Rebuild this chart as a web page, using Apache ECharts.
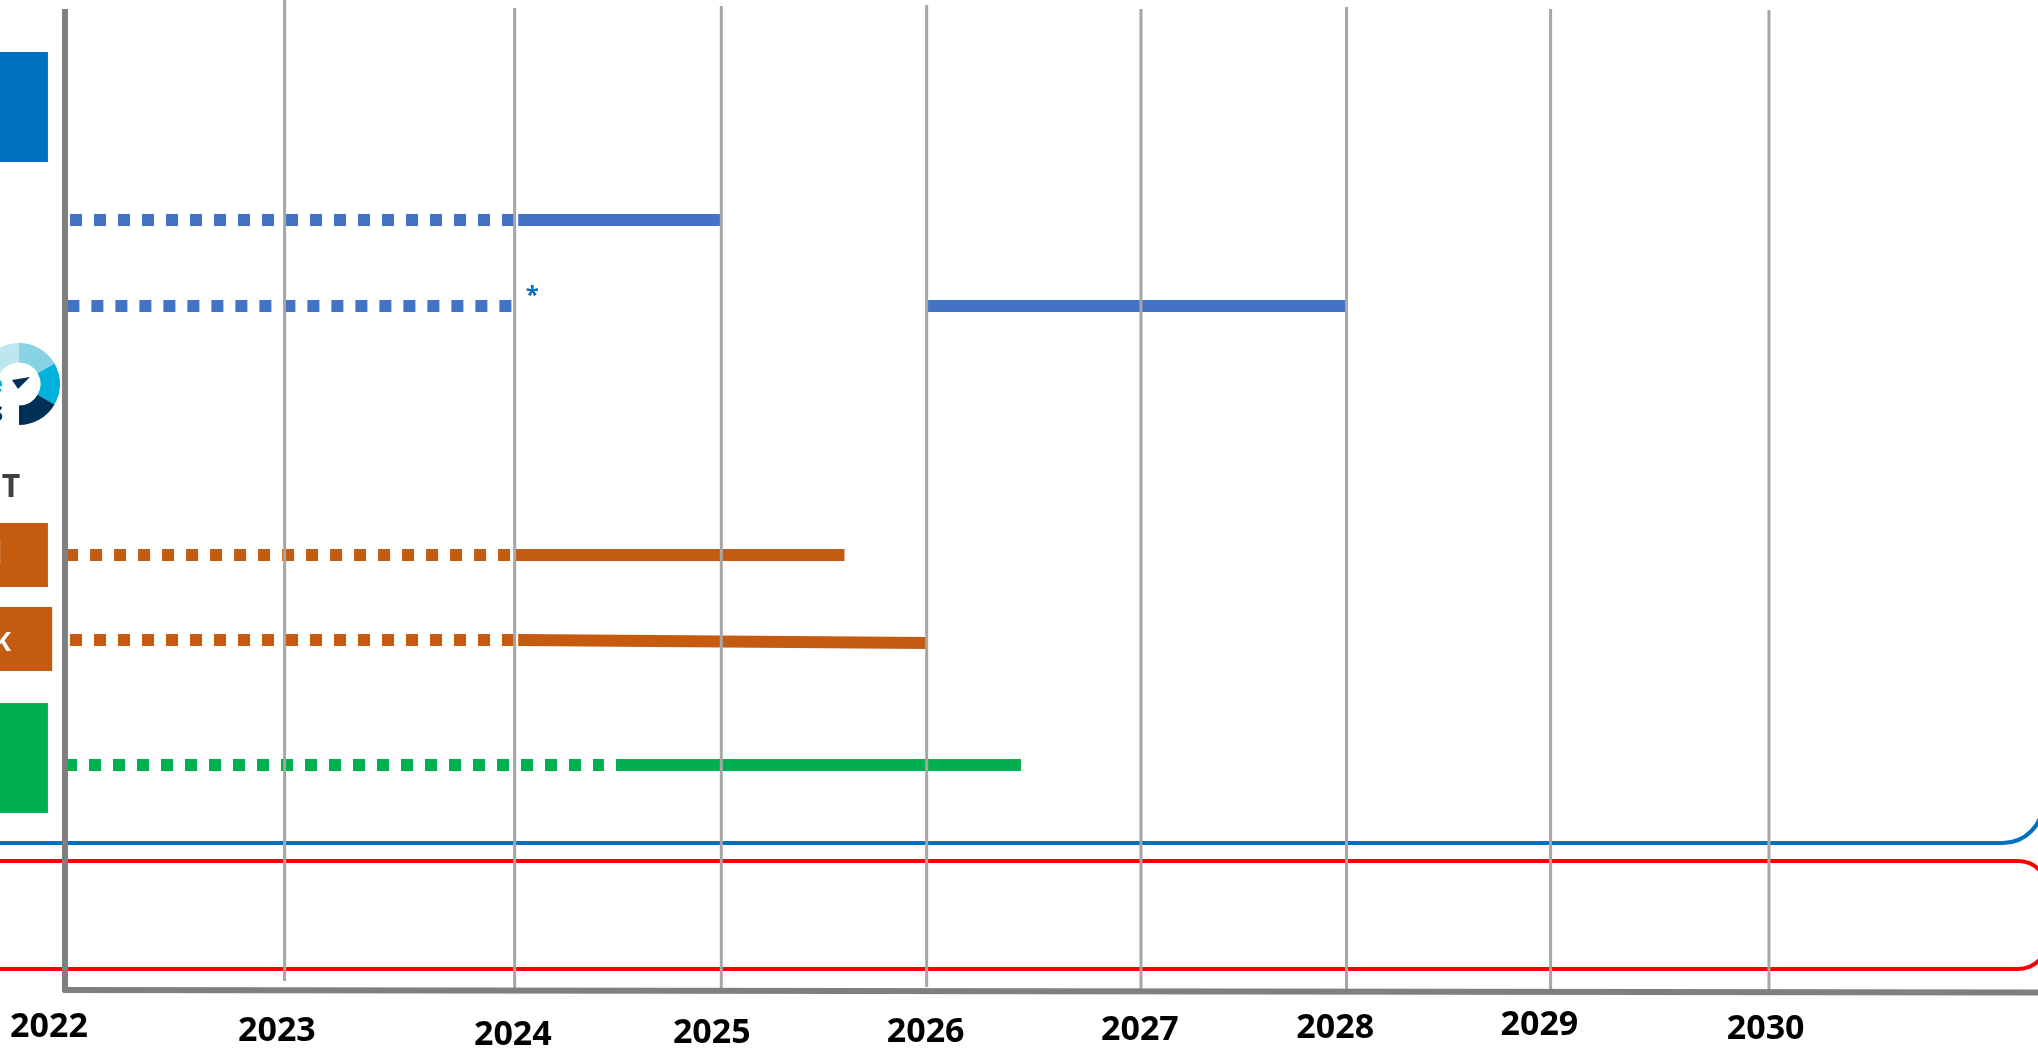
<!DOCTYPE html>
<html>
<head>
<meta charset="utf-8">
<style>
  html, body { margin: 0; background: #fff; }
  #chart { width: 2038px; height: 1049px; }
</style>
<script src="https://cdn.jsdelivr.net/npm/echarts@6/dist/echarts.min.js"></script>
</head>
<body>
<div id="chart"></div>
<script>
// calendar years on the time axis, and how wide each one is drawn (the slide is not even)
const tickYears = [2022, 2023, 2024, 2025, 2026, 2027, 2028, 2029, 2030]
const yearSpans = [1.031, 1.08, 0.97, 0.964, 1.006, 0.965, 0.958, 1.025]

// programme rows, top to bottom
const rowLevels = [2.2, 3.06, 5.55, 6.4, 7.65]
const rowColors = ['#4472C4', '#4472C4', '#C55A11', '#C55A11', '#00B050']

// dotted part of each row (planned), then solid part
const dottedFrom = [2022.023, 2022.011, 2022.005, 2022.023, 2022]
const dottedTo = [2023.997, 2023.989, 2023.98, 2023.997, 2024.432]
const solidFrom = [2024.017, 2026, 2023.998, 2024.017, 2024.49]
const solidTo = [2025, 2028, 2025.6, 2026, 2026.44]
const solidEndLevels = [2.2, 3.06, 5.55, 6.43, 7.65]

// tick lines: top and bottom level for each year
const tickTops = [0.09, 0, 0.08, 0.06, 0.05, 0.09, 0.07, 0.09, 0.1]
const tickBottoms = [9.9, 9.81, 9.88, 9.89, 9.87, 9.92, 9.9, 9.91, 9.93]

// year labels are hand placed on the slide, so they have their own anchors
const tickLabels = ['2022', '2023', '2024', '2025', '2026', '2027', '2028', '2029', '2030']
const tickLabelX = [2021.925, 2022.965, 2023.992, 2024.954, 2025.995, 2026.995, 2027.945, 2028.945, 2029.985]
const tickLabelLevel = [10.27, 10.31, 10.35, 10.33, 10.32, 10.3, 10.28, 10.25, 10.29]

// row label boxes cut off at the left edge: x0, x1, top, bottom
const labelBoxes = [
  [2021, 2021.92, 0.52, 1.62],
  [2021, 2021.92, 5.23, 5.87],
  [2021, 2021.94, 6.07, 6.71],
  [2021, 2021.92, 7.03, 8.13]
]
const labelBoxColors = ['#0070C0', '#C55A11', '#C55A11', '#00B050']

// rounded outlines along the bottom: x0, x1, top, bottom
const outlines = [
  [2021, 2031.286, -2, 8.43],
  [2021, 2031.31, 8.61, 9.69]
]
const outlineColors = ['#0070C0', '#FF0000']
const outlineRadius = [40, 30]

// logo ring slices, clockwise from 12 o'clock
const logoSlices = [60, 60, 60, 120, 60]
const logoColors = ['#85D3E3', '#00B2DD', '#003057', 'transparent', '#BFE6EE']

// leftover text on the left of the picture: text, x, level
const sideTexts = [
  ['T', 2021.79, 4.88],
  ['K', 2021.747, 6.44],
  ['I', 2021.71, 5.55],
  ['e', 2021.71, 3.85],
  ['s', 2021.71, 4.14],
  ['*', 2024.085, 2.96]
]
const sideTextColors = ['#404040', '#FFFFFF', '#E8C4A8', '#00B2DD', '#003057', '#0070C0']
const sideTextSizes = [32, 26, 32, 24, 26, 24]

const xStart = 2021.695
const xEnd = 2031.263

// year -> position on the value axis
function toAxis(year) {
  let pos = 0
  for (let i = 0; i < yearSpans.length; i++) {
    const from = tickYears[i]
    if (year <= from) break
    pos += Math.min(year - from, 1) * yearSpans[i]
  }
  if (year > 2030) pos += year - 2030
  if (year < 2022) pos = year - 2022
  return pos
}

function boxItem(params, api) {
  const a = api.coord([api.value(0), api.value(2)])
  const b = api.coord([api.value(1), api.value(3)])
  return {
    type: 'rect',
    shape: { x: a[0], y: a[1], width: b[0] - a[0], height: b[1] - a[1] },
    style: { fill: labelBoxColors[params.dataIndex] }
  }
}

function outlineItem(params, api) {
  const a = api.coord([api.value(0), api.value(2)])
  const b = api.coord([api.value(1), api.value(3)])
  return {
    type: 'rect',
    shape: { x: a[0], y: a[1], width: b[0] - a[0], height: b[1] - a[1], r: outlineRadius[params.dataIndex] },
    style: { fill: 'none', stroke: outlineColors[params.dataIndex], lineWidth: 4 }
  }
}

function tickItem(params, api) {
  const a = api.coord([api.value(0), api.value(1)])
  const b = api.coord([api.value(0), api.value(2)])
  return {
    type: 'line',
    shape: { x1: a[0], y1: a[1], x2: b[0], y2: b[1] },
    style: { stroke: '#A6A6A6', lineWidth: 3 }
  }
}

function tickLabelItem(params, api) {
  const p = api.coord([api.value(0), api.value(1)])
  return {
    type: 'text',
    x: p[0],
    y: p[1],
    style: {
      text: tickLabels[params.dataIndex],
      font: 'bold 34px "Open Sans"',
      fill: '#000',
      align: 'center',
      verticalAlign: 'middle'
    }
  }
}

function sideTextItem(params, api) {
  const p = api.coord([api.value(0), api.value(1)])
  const i = params.dataIndex
  return {
    type: 'text',
    x: p[0],
    y: p[1],
    style: {
      text: sideTexts[i][0],
      font: 'bold ' + sideTextSizes[i] + 'px "Open Sans"',
      fill: sideTextColors[i],
      align: i === 5 ? 'center' : 'right',
      verticalAlign: 'middle'
    }
  }
}

const chart = echarts.init(document.getElementById('chart'), null, { renderer: 'canvas' })

const series = [
  {
    type: 'custom',
    z: 1,
    silent: true,
    renderItem: boxItem,
    data: labelBoxes.map(b => [toAxis(b[0]), toAxis(b[1]), b[2], b[3]]),
    encode: { x: [0, 1], y: [2, 3] }
  },
  {
    type: 'custom',
    z: 1,
    silent: true,
    renderItem: outlineItem,
    data: outlines.map(b => [toAxis(b[0]), toAxis(b[1]), b[2], b[3]]),
    encode: { x: [0, 1], y: [2, 3] }
  },
  {
    type: 'pie',
    z: 1,
    silent: true,
    animation: false,
    center: [19, 384],
    radius: [21.5, 41],
    startAngle: 90,
    label: { show: false },
    labelLine: { show: false },
    data: logoSlices.map((v, i) => ({ value: v, itemStyle: { color: logoColors[i] } }))
  }
]

// dotted and solid part of each row
rowLevels.forEach((level, i) => {
  series.push({
    type: 'line',
    z: 2,
    silent: true,
    symbol: 'none',
    lineStyle: { color: rowColors[i], width: 12, type: [12, 12] },
    data: [[toAxis(dottedFrom[i]), level], [toAxis(dottedTo[i]), level]]
  })
  series.push({
    type: 'line',
    z: 2,
    silent: true,
    symbol: 'none',
    lineStyle: { color: rowColors[i], width: 12 },
    data: [[toAxis(solidFrom[i]), level], [toAxis(solidTo[i]), solidEndLevels[i]]]
  })
})

series.push(
  {
    type: 'custom',
    z: 3,
    silent: true,
    renderItem: tickItem,
    data: tickYears.slice(1).map((y, i) => [toAxis(y), tickTops[i + 1], tickBottoms[i + 1]]),
    encode: { x: 0, y: [1, 2] }
  },
  // thick axis lines, the bottom one is a little crooked on the slide
  {
    type: 'line',
    z: 4,
    silent: true,
    symbol: 'none',
    lineStyle: { color: '#7F7F7F', width: 6 },
    data: [[toAxis(tickYears[0]), tickTops[0]], [toAxis(tickYears[0]), 9.92]]
  },
  {
    type: 'line',
    z: 4,
    silent: true,
    symbol: 'none',
    lineStyle: { color: '#7F7F7F', width: 6 },
    data: [[toAxis(2021.99), 9.9], [toAxis(xEnd), 9.925]]
  },
  {
    type: 'custom',
    z: 5,
    silent: true,
    renderItem: tickLabelItem,
    data: tickLabelX.map((x, i) => [toAxis(x), tickLabelLevel[i]]),
    encode: { x: 0, y: 1 }
  },
  {
    type: 'custom',
    z: 5,
    silent: true,
    renderItem: sideTextItem,
    data: sideTexts.map(t => [toAxis(t[1]), t[2]]),
    encode: { x: 0, y: 1 }
  }
)

chart.setOption({
  animation: false,
  backgroundColor: '#fff',
  grid: { left: 0, right: 0, top: 0, bottom: 0 },
  xAxis: { type: 'value', min: toAxis(xStart), max: toAxis(xEnd), show: false },
  yAxis: { type: 'value', min: 0, max: 10.49, inverse: true, show: false },
  graphic: [
    // the little arrow inside the logo ring
    { type: 'polygon', z: 6, shape: { points: [[12, 380], [30, 377], [18, 389]] }, style: { fill: '#003057' }, silent: true }
  ],
  series: series
})
window.addEventListener('resize', () => chart.resize())
</script>
</body>
</html>
